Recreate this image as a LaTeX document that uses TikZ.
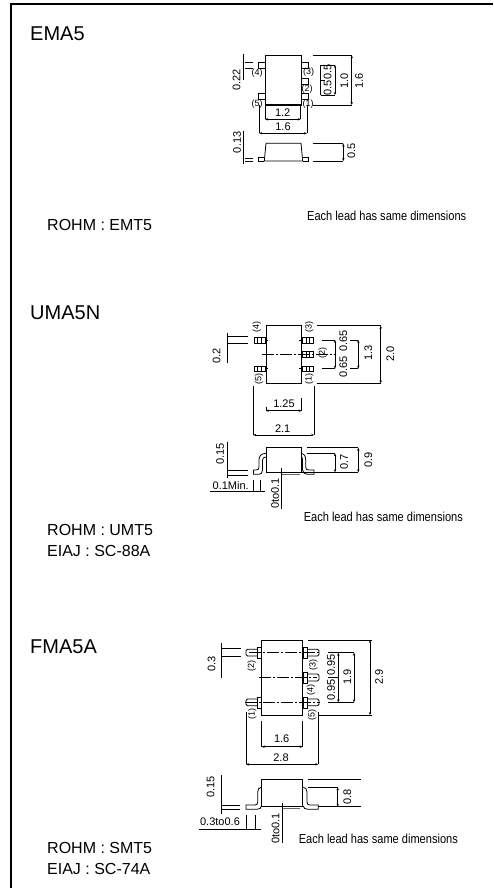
\documentclass[tikz,border=0pt]{standalone}
\usepackage{fontspec}
\setmainfont{Liberation Sans}
\usepackage{tikz}
\usetikzlibrary{arrows.meta}
\tikzset{part/.style={line width=0.8pt},
	ext/.style={line width=0.6pt},
	dimline/.style={line width=0.6pt,{Stealth[length=3pt,width=2.4pt]}-{Stealth[length=3pt,width=2.4pt]}},
	center line/.style={line width=0.6pt,dash pattern=on 12pt off 2pt on 2pt off 2pt},
	title text/.style={anchor=west,inner sep=0pt,font=\fontsize{20}{20}\selectfont},
	pack text/.style={anchor=west,inner sep=0pt,font=\fontsize{16}{16}\selectfont},
	size text/.style={inner sep=0pt,font=\fontsize{11}{11}\selectfont},
	pin text/.style={inner sep=0pt,font=\fontsize{9}{9}\selectfont},
	note text/.style={inner sep=0pt,xscale=.85,transform shape,font=\fontsize{13}{13}\selectfont},}

\begin{document}
\begin{tikzpicture}[x=1pt,y=-1pt]
	\useasboundingbox (0,0) rectangle (493,888);
	\draw[line width=2pt] (10.5,888) -- (10.5,4.5) -- (493,4.5);

	% EMA5
	\node[title text] (ematitle) at (30,34) {EMA5};
	\node[pack text] (emarohm) at (47,225) {ROHM : EMT5};
	\node[note text] (emanote) at (386.7,215.7) {Each lead has same dimensions};
	\draw[part] (265,55.3) rectangle (301.7,105);
	\draw[line width=1.3pt] (265,55.3) -- (301.7,55.3) (265,105) -- (301.7,105);
	\draw[part] (265,62) -| (258.3,68) -- (265,68);
	\draw[part] (265,93) -| (258.3,99) -- (265,99);
	\draw[part] (301.7,62) -| (308,68) -- (301.7,68);
	\draw[part] (301.7,78) -| (308,84) -- (301.7,84);
	\draw[part] (301.7,93) -| (308,99) -- (301.7,99);
	\node[pin text] (emapin4) at (257,73) {(4)};
	\node[pin text] (emapin3) at (308.7,72.3) {(3)};
	\node[pin text] (emapin2) at (307,88.7) {(2)};
	\node[pin text] (emapin5) at (257,104) {(5)};
	\node[pin text] (emapin1) at (308,104) {(1)};
	\draw[ext] (243.3,54) -- (243.3,80);
	\draw[ext] (245,62) -- (253,62) (245,68) -- (253,68);
	\node[size text,rotate=90] (emalead) at (236.7,80) {0.22};
	\draw[ext] (320.7,65) -- (335,65) (320.7,95) -- (335,95) (320.7,65) -- (320.7,95) (320.7,80) -- (325,80);
	\draw[dimline] (335,65) -- (335,95);
	\node[size text,rotate=90] (emapitcha) at (327.5,72) {0.5};
	\node[size text,rotate=90] (emapitchb) at (327.5,87.7) {0.5};
	\node[size text,rotate=90] (emaspan) at (344.3,81) {1.0};
	\draw[ext] (313,55.3) -- (352,55.3) (313,105) -- (352,105);
	\draw[dimline] (351.7,55.3) -- (351.7,105);
	\node[size text,rotate=90] (emaheight) at (359,81) {1.6};
	\draw[dimline] (265,119.3) -- (300.7,119.3);
	\draw[ext] (265,105) -- (265,119.3) (300.7,105) -- (300.7,119.3);
	\node[size text] (emabody) at (282.7,112.7) {1.2};
	\draw[dimline] (259.3,133.3) -- (307,133.3);
	\draw[ext] (259.3,105) -- (259.3,133.3) (307,105) -- (307,133.3);
	\node[size text] (emawidth) at (283,127) {1.6};
	\draw[part] (264.3,161) -- (266,143.3) -- (301,143.3) -- (302.7,161) -- cycle;
	\draw[part] (264.3,157.7) -- (258.3,157.7) -- (258.3,161) -- (264.3,161);
	\draw[part] (302.7,157.7) -- (308.3,157.7) -- (308.3,161) -- (302.7,161);
	\draw[ext] (243.3,131) -- (243.3,164);
	\draw[ext] (245,158) -- (252.7,158) (245,161) -- (252.7,161);
	\node[size text,rotate=90] (emathick) at (237,142.3) {0.13};
	\draw[ext] (313.3,143.5) -- (343,143.5) (313.3,161) -- (343,161);
	\draw[dimline] (343.3,143.5) -- (343.3,161);
	\node[size text,rotate=90] (emaside) at (351.3,151) {0.5};

	% UMA5N
	\node[title text] (umatitle) at (30,313) {UMA5N};
	\node[pack text] (umarohm) at (47,530) {ROHM : UMT5};
	\node[pack text] (umaeiaj) at (47,551) {EIAJ : SC-88A};
	\node[note text] (umanote) at (383.3,516.7) {Each lead has same dimensions};
	\draw[part] (266,325.7) rectangle (301.7,383.3);
	\draw[part] (254,337.3) rectangle (265,343.3) (254,366) rectangle (265,371.7);
	\draw[ext] (257.5,337.3) -- (257.5,343.3) (261,337.3) -- (261,343.3) (257.5,366) -- (257.5,371.7) (261,366) -- (261,371.7);
	\draw[part] (302.5,337.3) rectangle (313.3,343.3) (302.5,351.7) rectangle (313.3,357.7) (302.5,366) rectangle (313.3,371.7);
	\draw[ext] (306,337.3) -- (306,343.3) (309.5,337.3) -- (309.5,343.3) (306,351.7) -- (306,357.7) (309.5,351.7) -- (309.5,357.7) (306,366) -- (306,371.7) (309.5,366) -- (309.5,371.7);
	\draw[ext] (265,340) -- (268.3,340) (265,368.7) -- (268.3,368.7) (299,340) -- (302.5,340) (299,368.7) -- (302.5,368.7);
	\draw[center line] (261.7,354) -- (336,354);
	\node[pin text,rotate=90] (umapin4) at (256.7,327.3) {(4)};
	\node[pin text,rotate=90] (umapin3) at (309.3,326.7) {(3)};
	\node[pin text,rotate=90] (umapin2) at (322.7,353.3) {(2)};
	\node[pin text,rotate=90] (umapin5) at (259,378.7) {(5)};
	\node[pin text,rotate=90] (umapin1) at (309.3,379.3) {(1)};
	\draw[ext] (227.7,332.7) -- (227.7,363.3) (227.7,336.7) -- (247.7,336.7) (227.7,343.3) -- (247.7,343.3);
	\node[size text,rotate=90] (umalead) at (216.7,355.7) {0.2};
	\draw[ext] (321.7,340) -- (335,340) (321.7,368.7) -- (335,368.7);
	\draw[dimline] (335,340) -- (335,368.7);
	\node[size text,rotate=90] (umapitcha) at (343.3,340.7) {0.65};
	\node[size text,rotate=90] (umapitchb) at (343.3,367) {0.65};
	\draw[ext] (350,340) -- (358.3,340) (350,368.7) -- (358.3,368.7);
	\draw[dimline] (358.3,340) -- (358.3,368.7);
	\node[size text,rotate=90] (umaspan) at (368.3,352.7) {1.3};
	\draw[ext] (316.7,325.7) -- (380.7,325.7) (316.7,383.3) -- (380.7,383.3);
	\draw[dimline] (380.7,325.7) -- (380.7,383.3);
	\node[size text,rotate=90] (umaheight) at (390.3,354.3) {2.0};
	\draw[ext] (266,406.7) -- (266,410.7) (301.7,398.3) -- (301.7,410.7);
	\draw[dimline] (266,410.7) -- (301.7,410.7);
	\node[size text] (umabody) at (284,403.3) {1.25};
	\draw[ext] (253.3,385.7) -- (253.3,435) (314,385.7) -- (314,435);
	\draw[dimline] (253.3,435) -- (314,435);
	\node[size text] (umawidth) at (282.7,428.3) {2.1};
	\draw[part] (266,472.3) -- (266,447.7) -- (301.7,447.7) -- (301.7,472.3) -- cycle;
	\draw[part] (266,453.3) .. controls (261,453.5) and (259,456) .. (259,460) -- (259,467) .. controls (259,469) and (258,470) .. (256,470) -- (253.5,470) -- (253.5,474.3) -- (259,474.3) .. controls (261,474.3) and (262.5,473) .. (262.5,470) -- (262.5,460) .. controls (262.5,458) and (264,457) .. (266,457);
	\draw[part] (301.7,453.3) .. controls (304,453.5) and (305.7,456) .. (305.7,460) -- (305.7,467) .. controls (305.7,469) and (306.7,470) .. (308.7,470) -- (314,470) -- (314,474.3) -- (309,474.3) .. controls (305,474.3) and (302.5,473) .. (302.5,470) -- (302.5,460) .. controls (302.5,458) and (302,457) .. (301.7,457);
	\draw[ext] (227.7,441.7) -- (227.7,478.3) (227.7,470) -- (248.3,470) (227.7,475) -- (248.3,475);
	\node[size text,rotate=90] (umafoot) at (220,454) {0.15};
	\node[size text] (umamin) at (230.7,486) {0.1Min.};
	\draw[ext] (210,491.7) -- (265,491.7) (253.3,480) -- (253.3,491.7) (260.7,480) -- (260.7,491.7);
	\draw[ext] (281.7,468.3) -- (281.7,509.3);
	\draw[line width=1pt,black!60] (281.7,474.3) -- (300,474.3);
	\node[size text,rotate=90] (umagap) at (275,493.3) {0to0.1};
	\draw[ext] (307.3,453.3) -- (335,453.3) (301.7,472.3) -- (358.3,472.3) (307.3,447.7) -- (358.3,447.7);
	\draw[dimline] (335,453.3) -- (335,472.3);
	\draw[dimline] (358.3,447.7) -- (358.3,472.3);
	\node[size text,rotate=90] (umaside) at (344,461.7) {0.7};
	\node[size text,rotate=90] (umatotal) at (368.3,460) {0.9};

	% FMA5A
	\node[title text] (fmatitle) at (30,647) {FMA5A};
	\node[pack text] (fmarohm) at (47,848.3) {ROHM : SMT5};
	\node[pack text] (fmaeiaj) at (47,869.3) {EIAJ : SC-74A};
	\node[note text] (fmanote) at (378.3,838.7) {Each lead has same dimensions};
	\draw[part] (261.7,640) rectangle (302.7,715);
	\draw[part] (257.7,647) rectangle (261.7,658) (257.7,697) rectangle (261.7,708);
	\draw[part] (303,647) rectangle (307,658) (303,672) rectangle (307,683) (303,697) rectangle (307,708);
	\draw[part,rounded corners=1.5pt] (257.7,649.3) -- (246,649.3) -- (246,656) -- (257.7,656);
	\draw[part,rounded corners=1.5pt] (257.7,699) -- (246,699) -- (246,705.7) -- (257.7,705.7);
	\draw[part,rounded corners=1.5pt] (307,649.3) -- (319,649.3) -- (319,656) -- (307,656);
	\draw[part,rounded corners=1.5pt] (307,674) -- (319,674) -- (319,681) -- (307,681);
	\draw[part,rounded corners=1.5pt] (307,699) -- (319,699) -- (319,705.7) -- (307,705.7);
	\draw[center line] (249.3,652.7) -- (319,652.7);
	\draw[center line] (259.3,677.3) -- (317,677.3);
	\draw[center line] (245,702.3) -- (320,702.3);
	\node[pin text,rotate=90] (fmapin2) at (251.7,665.7) {(2)};
	\node[pin text,rotate=90] (fmapin3) at (313.3,665) {(3)};
	\node[pin text,rotate=90] (fmapin4) at (311,690) {(4)};
	\node[pin text,rotate=90] (fmapin1) at (252.3,714) {(1)};
	\node[pin text,rotate=90] (fmapin5) at (312.3,715) {(5)};
	\draw[ext] (221,643.3) -- (221,678.3) (221,648.3) -- (240.7,648.3) (221,656) -- (240.7,656);
	\node[size text,rotate=90] (fmalead) at (211.5,664) {0.3};
	\draw[ext] (328.3,652.7) -- (354,652.7) (328.3,702.3) -- (354,702.3) (328.3,677.3) -- (338.3,677.3);
	\draw[dimline] (338.3,652.7) -- (338.3,702.3);
	\draw[dimline] (354,652.7) -- (354,702.3);
	\node[size text,rotate=90] (fmapitcha) at (331,665) {0.95};
	\node[size text,rotate=90] (fmapitchb) at (331,690) {0.95};
	\node[size text,rotate=90] (fmaspan) at (347.3,676.7) {1.9};
	\draw[ext] (308.3,640) -- (372,640) (319.3,715) -- (372,715);
	\draw[dimline] (370,640) -- (370,715);
	\node[size text,rotate=90] (fmaheight) at (379,677.3) {2.9};
	\draw[ext] (261.7,720.7) -- (261.7,746.7) (302.7,720.7) -- (302.7,746.7);
	\draw[dimline] (261.7,746.7) -- (302.7,746.7);
	\node[size text] (fmabody) at (281.7,739) {1.6};
	\draw[ext] (246,711.7) -- (246,764.3) (318.3,711.7) -- (318.3,764.3);
	\draw[dimline] (246,764.3) -- (318.3,764.3);
	\node[size text] (fmawidth) at (281,757.3) {2.8};
	\draw[part] (261.7,806.7) -- (261.7,779.3) -- (302.7,779.3) -- (302.7,806.7) -- cycle;
	\draw[part] (261.3,787.3) .. controls (259,787.5) and (257.7,789) .. (257.7,792) -- (257.7,802) .. controls (257.7,804) and (257,805) .. (255,805) -- (246,805) -- (246,809.3) -- (257,809.3) .. controls (260,809.3) and (261.3,808) .. (261.3,806);
	\draw[part] (303.3,787.3) .. controls (305.5,787.5) and (307,789) .. (307,792) -- (307,802) .. controls (307,804) and (308,805) .. (310,805) -- (318.3,805) -- (318.3,809.3) -- (308,809.3) .. controls (305,809.3) and (303.3,808) .. (303.3,806);
	\draw[ext] (221.7,775) -- (221.7,814) (221.7,805) -- (240,805) (221.7,809.3) -- (240,809.3);
	\node[size text,rotate=90] (fmafoot) at (210.7,786.7) {0.15};
	\node[size text] (fmarange) at (220,821.7) {0.3to0.6};
	\draw[ext] (199.3,829.3) -- (260.7,829.3) (246,815) -- (246,829.3) (255.7,815) -- (255.7,829.3);
	\draw[ext] (282.7,802.7) -- (282.7,843.3);
	\draw[line width=1pt,black!60] (282.7,808.3) -- (300,808.3);
	\node[size text,rotate=90] (fmagap) at (275.7,828.3) {0to0.1};
	\draw[ext] (308.3,787.3) -- (337.7,787.3) (318.3,806.7) -- (360.7,806.7) (308.3,779.3) -- (360.7,779.3);
	\draw[dimline] (337.7,787.3) -- (337.7,806.7);
	\node[size text,rotate=90] (fmaside) at (347.3,796.7) {0.8};
\end{tikzpicture}
\end{document}
